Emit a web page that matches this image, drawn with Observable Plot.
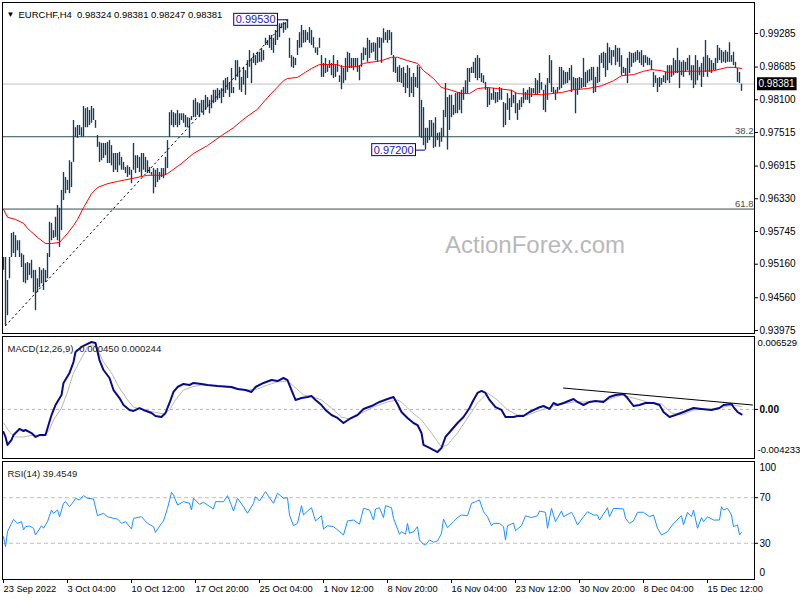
<!DOCTYPE html>
<html><head><meta charset="utf-8">
<script src="https://cdn.jsdelivr.net/npm/d3@7"></script>
<script src="https://cdn.jsdelivr.net/npm/@observablehq/plot@0.6"></script>
<style>
body{margin:0;background:#fff;}
#wrap{position:relative;width:800px;height:600px;overflow:hidden;background:#fff;}
#wrap svg{display:block;}
#wm{position:absolute;left:445px;top:233px;font:24px "Liberation Sans",Arial,sans-serif;line-height:24px;color:#b8b8b8;white-space:nowrap;}
</style></head><body><div id="wrap"></div>
<script>
// ---------- DATA ----------
const symbol = "EURCHF,H4";
const lastOHLC = [0.98324, 0.98381, 0.98247, 0.98381];
const lastClose = 0.98381;
// H4 bars, high / low in 1/10000 CHF (pips)
const barHigh = [9528,9528,9487,9528,9571,9573,9567,9558,9558,9535,9532,9517,9519,9517,9523,9505,9505,9490,9510,9505,9508,9505,9535,9591,9589,9576,9600,9621,9616,9648,9680,9671,9666,9701,9698,9773,9760,9764,9764,9760,9798,9794,9796,9791,9798,9794,9773,9746,9734,9732,9732,9732,9734,9737,9728,9714,9714,9714,9716,9707,9698,9689,9692,9689,9684,9732,9710,9710,9707,9714,9714,9707,9701,9689,9680,9687,9684,9687,9680,9687,9687,9707,9737,9787,9791,9787,9785,9791,9785,9785,9785,9782,9778,9777,9780,9809,9812,9805,9803,9809,9809,9818,9814,9809,9818,9827,9827,9830,9827,9830,9844,9848,9850,9839,9866,9832,9880,9880,9868,9850,9868,9862,9880,9898,9884,9893,9889,9895,9895,9902,9898,9920,9916,9925,9925,9920,9934,9943,9946,9946,9948,9948,9953,9920,9889,9886,9884,9916,9930,9943,9934,9934,9930,9939,9934,9921,9903,9903,9920,9889,9875,9884,9871,9880,9875,9889,9871,9880,9853,9871,9866,9884,9895,9893,9884,9884,9884,9884,9871,9893,9903,9902,9920,9916,9911,9912,9911,9921,9921,9920,9937,9930,9934,9934,9930,9889,9884,9868,9871,9866,9868,9857,9871,9866,9850,9857,9850,9871,9868,9809,9796,9759,9759,9773,9773,9768,9778,9750,9751,9759,9791,9839,9814,9818,9818,9800,9821,9823,9823,9827,9832,9844,9866,9866,9868,9877,9884,9889,9884,9857,9853,9841,9832,9830,9821,9830,9823,9823,9832,9830,9805,9803,9821,9812,9827,9818,9823,9803,9809,9814,9830,9823,9827,9832,9830,9830,9848,9844,9857,9841,9827,9836,9848,9889,9880,9832,9827,9832,9868,9868,9862,9859,9859,9866,9871,9850,9848,9848,9850,9848,9884,9859,9862,9864,9868,9868,9850,9868,9889,9893,9895,9893,9911,9903,9898,9898,9907,9902,9902,9889,9868,9866,9884,9895,9893,9893,9895,9898,9895,9898,9889,9889,9886,9884,9880,9859,9853,9848,9850,9848,9853,9859,9871,9871,9871,9884,9880,9902,9880,9877,9880,9877,9884,9889,9871,9871,9889,9880,9868,9875,9886,9916,9889,9884,9880,9875,9884,9907,9902,9898,9895,9898,9895,9912,9889,9895,9877,9866,9859,9838];
const barLow = [9505,9406,9424,9490,9528,9535,9528,9540,9528,9510,9483,9481,9487,9496,9490,9465,9433,9465,9474,9481,9469,9483,9490,9528,9558,9562,9564,9558,9546,9576,9630,9642,9648,9642,9653,9698,9743,9741,9746,9743,9743,9760,9760,9764,9768,9773,9759,9725,9698,9701,9705,9710,9696,9696,9692,9680,9684,9680,9692,9684,9684,9678,9671,9675,9660,9684,9678,9687,9680,9671,9684,9680,9678,9678,9675,9642,9653,9662,9666,9671,9669,9675,9687,9743,9764,9760,9764,9760,9764,9773,9768,9760,9760,9741,9773,9778,9778,9782,9778,9787,9782,9791,9796,9785,9794,9803,9805,9809,9812,9803,9814,9821,9827,9814,9821,9821,9844,9850,9827,9823,9836,9818,9848,9868,9839,9875,9871,9875,9877,9877,9880,9907,9907,9902,9898,9893,9907,9916,9921,9937,9929,9934,9937,9884,9868,9866,9871,9889,9902,9903,9911,9912,9916,9911,9907,9902,9893,9889,9902,9850,9850,9857,9859,9866,9853,9848,9850,9859,9841,9828,9839,9844,9859,9866,9866,9862,9868,9859,9844,9868,9880,9889,9877,9884,9893,9895,9880,9877,9902,9875,9911,9916,9911,9916,9889,9859,9857,9841,9841,9839,9832,9821,9830,9814,9821,9814,9832,9830,9743,9741,9728,9720,9732,9737,9743,9723,9725,9737,9725,9734,9743,9778,9720,9755,9778,9782,9785,9785,9791,9785,9809,9821,9821,9841,9857,9857,9848,9844,9848,9841,9839,9827,9796,9800,9809,9809,9803,9805,9809,9809,9760,9764,9791,9773,9796,9803,9785,9773,9791,9796,9803,9809,9809,9803,9814,9821,9818,9818,9821,9827,9791,9787,9809,9839,9823,9821,9809,9821,9827,9830,9836,9838,9839,9844,9823,9827,9785,9818,9827,9830,9832,9832,9839,9842,9844,9821,9823,9839,9841,9875,9866,9850,9862,9875,9871,9886,9871,9877,9868,9853,9857,9853,9839,9857,9868,9875,9877,9880,9875,9871,9868,9875,9871,9871,9862,9832,9839,9823,9832,9836,9841,9839,9844,9839,9850,9853,9857,9857,9830,9853,9850,9859,9862,9853,9844,9830,9836,9844,9853,9832,9850,9859,9850,9859,9857,9862,9862,9875,9880,9875,9877,9875,9877,9877,9877,9871,9866,9841,9839,9825];
// moving average (red), read at bar indices, pips
const maIdx = [0,2,6,10,12,17,21,24,28,32,35,37,40,44,47,52,57,64,72,80,82,89,95,102,109,115,121,127,132,140,142,147,150,154,158,167,169,177,180,189,194,197,202,207,210,215,219,224,229,233,237,242,247,254,257,269,279,285,292,299,305,309,315,320,324,329,332,340,349,355,362,365,369];
const maPips = [9614,9600,9596,9589,9580,9564,9553,9553,9555,9571,9585,9596,9617,9642,9653,9660,9664,9669,9675,9675,9678,9696,9714,9728,9746,9760,9778,9793,9814,9844,9848,9850,9857,9866,9873,9873,9869,9869,9875,9880,9886,9886,9880,9875,9862,9848,9832,9827,9821,9821,9830,9832,9830,9827,9821,9819,9823,9828,9830,9835,9844,9853,9855,9861,9864,9862,9859,9861,9861,9862,9868,9868,9866];
// MACD main & signal, x 1e-4
const macdIdx = [0,1,2,4,5,8,10,11,14,16,18,21,24,26,29,30,33,35,36,39,41,44,46,48,50,53,55,58,60,63,65,68,70,74,76,79,81,83,85,87,90,93,95,99,102,107,114,117,121,124,126,130,134,137,140,142,144,146,149,152,154,156,159,161,164,167,170,173,177,180,184,188,192,195,197,199,202,205,207,209,210,213,217,219,221,224,227,230,233,235,237,239,241,243,246,249,251,255,257,260,263,267,270,273,275,277,280,285,287,290,293,296,300,303,306,310,312,315,318,321,325,328,330,333,336,340,345,349,354,358,360,364,365,367,369];
const macdE4 = [-20.1,-24.5,-31.6,-27.2,-22.8,-17.4,-19.2,-18.3,-21,-24.5,-22.8,-22.8,-5,3.9,12.8,23.5,32.4,42.1,51,55.5,57.3,59.9,59,43.9,35,27.9,17.2,10.1,3.9,-0.5,-1.4,1.2,-0.5,-3.2,-5.9,-6.8,-3.2,5.7,15.5,19.9,22.6,21.7,23.5,22.6,21.7,20.8,19.9,18.1,17.2,15.5,19.9,23.5,26.1,25.2,27.9,26.1,17.2,8.4,10.1,11,11.9,8.4,3.9,-0.5,-5,-7.6,-12.1,-8.5,-5,0.4,3,6.6,9.2,11,4.8,-2.3,-7.6,-12.1,-13.9,-21,-31.6,-34.3,-37.9,-34.3,-24.5,-18.3,-12.1,-6.8,1.2,8.4,14.6,16.4,14.6,8.4,2.1,-0.5,-6.8,-6.8,-5.9,-5.9,-2.3,1.2,3,0.4,5.7,3.9,5.7,9.2,6.6,3.9,6.6,7.5,6.6,11,12.8,13.7,10.1,3,3.9,5.7,5.7,3.9,-2.3,-6.8,-5,-2.3,1.2,0.4,-0.5,1.2,3.9,4.8,2.1,-2.3,-4.5];
const sigIdx = [0,3,6,10,15,20,23,25,29,32,35,39,42,45,47,50,54,58,62,65,70,75,80,83,86,90,94,99,107,115,122,127,132,137,142,145,150,155,159,164,169,173,179,185,192,197,199,204,209,214,219,222,227,232,237,242,247,252,257,262,269,277,285,294,302,309,315,322,329,334,339,345,354,360,365,369];
const sigE4 = [-12.1,-20.1,-24.5,-24.5,-22.8,-23.6,-18.3,-9.4,1.2,15.5,32.4,45.7,55.5,57.3,52.8,42.1,32.4,19,8.4,2.1,-0.5,-2.3,-4.1,-0.5,8.4,17.2,19.9,21.7,20.8,19,17.2,18.1,21.7,24.4,25.2,20.8,12.8,11,8.4,1.2,-6.8,-8.5,-3.2,2.1,6.6,8.4,6.6,-2.3,-9.4,-21,-33.4,-31.6,-21,-7.6,5.7,14.6,8.4,-0.5,-5,-5,-0.5,3.9,6.6,6.6,8.4,12.8,10.1,6.6,4.8,-3.2,-5,-0.5,0.4,2.1,3.9,2.4];
// RSI(14)
const rsiIdx = [0,1,2,4,5,7,9,10,11,13,15,16,19,20,22,24,25,27,28,30,31,33,35,36,38,40,42,45,47,50,52,55,57,59,61,64,65,69,72,75,76,79,80,82,84,85,87,90,93,94,95,98,100,102,105,106,110,112,114,115,117,120,122,125,126,128,131,133,135,137,140,142,143,145,147,149,150,152,154,156,159,160,162,165,170,172,175,178,180,183,185,186,188,190,191,194,195,198,199,201,202,203,205,207,208,210,211,213,215,217,219,220,222,225,227,229,232,234,236,238,240,242,244,245,248,250,251,252,255,256,259,261,264,267,268,271,272,274,276,279,280,284,285,287,290,292,295,297,298,301,302,303,305,310,311,313,315,317,320,323,325,327,329,332,335,339,340,342,344,345,347,349,350,352,355,358,359,360,362,364,365,367,368,369];
const rsiVal = [35.8,27,40.2,47.5,51,47.5,49,41.7,44.6,45.2,43.2,37.3,45.4,43.2,49,59.2,56.3,59.2,53.3,65.1,66.5,62.1,66.5,69.5,68,71.8,69.5,68.9,54.2,56.3,53.3,51.9,51.3,47.5,49,42.5,51.9,53.3,47.5,44.6,39.6,47.5,49.6,60.7,74.7,72.4,63.6,66.5,65.1,59.2,69.5,64.2,66,63.6,60.1,66.5,66.5,71.8,63,58.3,69.5,62.1,56.3,65.1,70.9,67.1,75.3,70,65.1,73.9,69.5,70,54.8,45.4,47.5,63,54.8,58.3,61.2,49.6,54.2,42.5,45.4,44.6,37.3,49.6,50.4,46.7,60.7,59.2,50.4,60.1,61.2,52.5,63,61.2,51.9,37.9,40.2,37.9,47.5,38.8,40.2,44.6,32.9,29.1,28.5,32.9,30.9,32,38.8,51.3,43.7,49,52.5,54.8,54.2,65.1,66.5,68,57.7,53.3,45.4,47.5,47.5,44.6,32.9,45.4,47.8,41.1,45.4,54.2,52.5,54.2,58.3,57.2,43.2,60.7,49,58.3,53.3,57.2,54.2,46.1,53.3,57.7,54.8,54.8,50.4,58.3,61.2,53.3,60.7,60.1,51.9,47.5,49.6,57.2,57.2,53.3,54.8,43.2,37.3,40.2,47.5,54.2,46.1,57.2,53.3,59.2,43.2,52.5,49,53.3,50.4,50.4,62.1,59.2,60.7,54.8,44.6,46.1,37.3,39.5];
const rsiLevels = [70, 30];
const rsiBounds = [100, 0];
// axes
const priceTicks = [0.99285,0.98685,0.98100,0.97515,0.96915,0.96330,0.95745,0.95160,0.94560,0.93975];
const timeTickIdx = [0,32,64,96,128,160,192,224,256,288,320,352];
const timeTickLabels = ["23 Sep 2022","3 Oct 04:00","10 Oct 12:00","17 Oct 20:00","25 Oct 04:00","1 Nov 12:00","8 Nov 20:00","16 Nov 04:00","23 Nov 12:00","30 Nov 20:00","8 Dec 04:00","15 Dec 12:00"];
const macdMax = 0.006529, macdMin = -0.004233;
const macdTitle = "MACD(12,26,9) -0.000450 0.000244";
const rsiTitle = "RSI(14) 39.4549";
// annotations
const fibLabels = ["38.2","61.8"];
const fibValues = [0.97439, 0.96146];
const extremeIdx = [142, 211];
const extremeVal = [0.99530, 0.97200];
const trendIdx = [1, 142];
const trendVal = [0.9406, 0.9953];
const macdTrendIdx = [280, 374.5];
const macdTrendVal = [0.0019, 0.00039];
const watermark = "ActionForex.com";

// ---------- BUILD ----------
const f5 = d => d.toFixed(5), f6 = d => d.toFixed(6);
const bars = barHigh.map((h, i) => ({i, hi: h / 1e4, lo: barLow[i] / 1e4}));
const ma = maIdx.map((i, k) => ({i, v: maPips[k] / 1e4}));
const macd = macdIdx.map((i, k) => ({i, v: macdE4[k] / 1e4}));
const sig = sigIdx.map((i, k) => ({i, v: sigE4[k] / 1e4}));
const rsi = rsiIdx.map((i, k) => ({i, v: rsiVal[k]}));
const fib = fibLabels.map((l, k) => ({label: l, value: fibValues[k]}));
const extremes = extremeIdx.map((i, k) => ({i, v: extremeVal[k], t: f5(extremeVal[k])}));
const trend = trendIdx.map((i, k) => ({i, v: trendVal[k]}));
const macdTrend = macdTrendIdx.map((i, k) => ({i, v: macdTrendVal[k]}));
const timeLabel = new Map(timeTickIdx.map((d, k) => [d, timeTickLabels[k]]));
const titleText = symbol + "\u00a0\u00a0" + lastOHLC.map(f5).join(" ");

const FONT = "'Liberation Sans', Arial, sans-serif";
const xDomain = [-0.5, 375.5];
const common = {width: 800, marginLeft: 2, marginRight: 46,
  style: {fontFamily: FONT, fontSize: "9.5px", color: "black", background: "white"}};

const p1 = Plot.plot({
  ...common, height: 335, marginTop: 2, marginBottom: 2,
  x: {domain: xDomain, axis: null},
  y: {domain: [0.939212, 0.998392]},
  marks: [
    Plot.ruleY([lastClose], {y: d => d, stroke: "#c0c0c0"}),
    Plot.ruleY(fib, {y: "value", stroke: "#2f4f4f"}),
    Plot.text(fib, {y: "value", text: "label", frameAnchor: "right", textAnchor: "end", dx: -1, dy: -5.5, fill: "#4a4a4a", fontSize: 9.5}),
    Plot.ruleX(bars, {x: "i", y1: "lo", y2: "hi", stroke: "#123e57", strokeWidth: 1.35}),
    Plot.line(trend, {x: "i", y: "v", stroke: "black", strokeWidth: 1, strokeDasharray: "1.5,3.5"}),
    Plot.line(ma, {x: "i", y: "v", stroke: "#ff0000", strokeWidth: 1}),
    Plot.ruleY(extremes, {y: "v", x1: d => d.i - 4.7, x2: "i", stroke: "#000080"}),
    Plot.text(extremes, {x: "i", y: "v", text: "t", textAnchor: "end", dx: -12, fill: "#2020c0", fontSize: 11}),
    Plot.text([lastClose], {y: d => d, text: d => f5(d), frameAnchor: "right", textAnchor: "start", dx: 4, fill: "white", fontSize: 10}),
    Plot.text(["\u25BC"], {text: d => d, frameAnchor: "top-left", dx: 8, dy: 8.5, fontSize: 8, textAnchor: "middle"}),
    Plot.text([titleText], {text: d => d, frameAnchor: "top-left", dx: 16, dy: 9, textAnchor: "start", fontSize: 9.5}),
    Plot.axisY(priceTicks, {anchor: "right", tickFormat: f5, tickSize: 3, tickPadding: 2, fontSize: 10, label: null}),
    Plot.frame({stroke: "black"})
  ]
});

const p2 = Plot.plot({
  ...common, height: 125, marginTop: 1, marginBottom: 2,
  x: {domain: xDomain, axis: null},
  y: {domain: [-0.004365, 0.00648]},
  marks: [
    Plot.ruleY([0], {y: d => d, stroke: "#b4b4b4", strokeDasharray: "3,3"}),
    Plot.line(sig, {x: "i", y: "v", stroke: "#b8b8b8", strokeWidth: 1}),
    Plot.line(macd, {x: "i", y: "v", stroke: "#0a0a8c", strokeWidth: 2}),
    Plot.line(macdTrend, {x: "i", y: "v", stroke: "black", strokeWidth: 1}),
    Plot.text([macdTitle], {text: d => d, frameAnchor: "top-left", dx: 5, dy: 9, textAnchor: "start", fill: "#222"}),
    Plot.axisY([0], {anchor: "right", tickFormat: () => "0.00", tickSize: 3, tickPadding: 2, fontSize: 10, fontWeight: "bold", label: null}),
    Plot.text([macdMax], {y: d => d, text: d => f6(d), frameAnchor: "right", textAnchor: "start", dx: 3, dy: 7}),
    Plot.text([macdMin], {y: d => d, text: d => f6(d), frameAnchor: "right", textAnchor: "start", dx: 3, dy: -7}),
    Plot.frame({stroke: "black"})
  ]
});

const p3 = Plot.plot({
  ...common, height: 140, marginTop: 1, marginBottom: 21,
  x: {domain: xDomain},
  y: {domain: [-1.75, 101.75]},
  marks: [
    Plot.ruleY(rsiLevels, {y: d => d, stroke: "#c0c0c0", strokeDasharray: "4,3"}),
    Plot.line(rsi, {x: "i", y: "v", stroke: "#1e90ff", strokeWidth: 1}),
    Plot.text([rsiTitle], {text: d => d, frameAnchor: "top-left", dx: 5, dy: 9, textAnchor: "start", fill: "#222"}),
    Plot.axisY(rsiLevels, {anchor: "right", tickSize: 3, tickPadding: 2, fontSize: 10, label: null}),
    Plot.text([rsiBounds[0]], {y: d => d, text: d => String(d), frameAnchor: "right", textAnchor: "start", dx: 5, dy: 4, fontSize: 10}),
    Plot.text([rsiBounds[1]], {y: d => d, text: d => String(d), frameAnchor: "right", textAnchor: "start", dx: 5, dy: -5, fontSize: 10}),
    Plot.axisX(timeTickIdx, {anchor: "bottom", tickSize: 4, tickPadding: 2, tickFormat: d => timeLabel.get(d), textAnchor: "start", fontSize: 9.3, label: null}),
    Plot.frame({stroke: "black"})
  ]
});

const wrap = document.getElementById("wrap");
wrap.append(p1, p2, p3);
const wm = document.createElement("div");
wm.id = "wm"; wm.textContent = watermark;
wrap.append(wm);

function boxTexts(svg, texts, fill, stroke, padX, h) {
  svg.querySelectorAll("text").forEach(t => {
    if (!texts.includes(t.textContent)) return;
    const b = t.getBBox();
    const r = document.createElementNS("http://www.w3.org/2000/svg", "rect");
    const cy = b.y + b.height / 2;
    r.setAttribute("x", b.x - padX);
    r.setAttribute("width", b.width + 2 * padX);
    r.setAttribute("y", cy - h / 2);
    r.setAttribute("height", h);
    r.setAttribute("fill", fill);
    if (stroke) { r.setAttribute("stroke", stroke); r.setAttribute("stroke-width", 1); }
    const tr = t.getAttribute("transform");
    if (tr) r.setAttribute("transform", tr);
    t.parentNode.insertBefore(r, t);
  });
}
boxTexts(p1, extremes.map(d => d.t), "white", "#000080", 2, 12);
boxTexts(p1, [f5(lastClose)], "black", null, 1.5, 13);
</script>
</body></html>
